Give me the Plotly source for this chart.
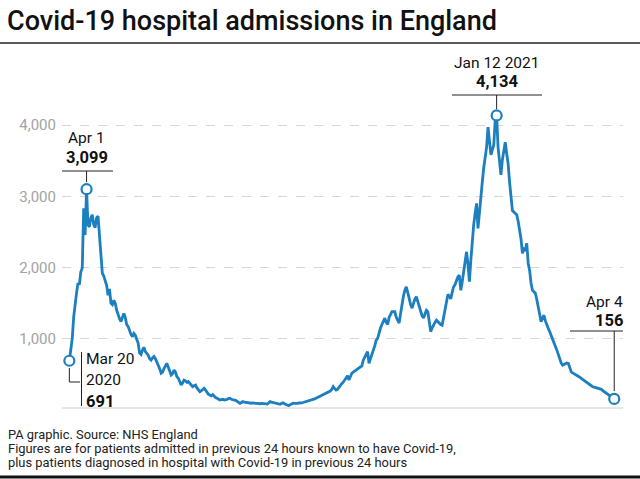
import plotly.graph_objects as go
import pandas as pd

# Daily admissions, starting 20 March 2020
mar_2020 = [691, 840, 1000, 1300, 1500, 1640, 1780, 1760, 1940, 1990, 2830, 2455]
apr_2020 = [3099, 2600, 2570, 2700, 2740, 2600, 2560, 2700, 2720, 2400, 2150, 1920, 1880, 1820, 1750,
            1610, 1700, 1500, 1480, 1540, 1500, 1400, 1330, 1280, 1240, 1300, 1355, 1300, 1200, 1170]
may_2020 = [1100, 1060, 1030, 1075, 1050, 980, 935, 800, 780, 840, 880, 820, 790, 770, 720, 700,
            730, 750, 720, 680, 630, 580, 515, 530, 580, 620, 655, 600, 540, 490, 510]
jun_2020 = [560, 530, 470, 445, 400, 350, 380, 420, 410, 390, 400, 370, 340, 327, 340, 350, 310,
            280, 257, 270, 290, 305, 280, 240, 220, 210, 200, 215, 187, 175]
jul_2020 = [165, 150, 140, 145, 150, 140, 140, 150, 160, 165, 150, 140, 140, 135, 120, 110, 94,
            105, 117, 110, 105, 100, 103, 98, 95, 100, 94, 92, 94, 90, 88]
aug_2020 = [94, 96, 90, 85, 84, 100, 117, 110, 105, 95, 94, 90, 85, 80, 94, 100, 88, 80, 70, 60,
            75, 90, 94, 92, 90, 94, 98, 94, 100, 105, 110]
sep_2020 = [115, 125, 130, 140, 145, 150, 155, 165, 175, 187, 195, 210, 225, 234, 240, 250, 257,
            265, 290, 327, 300, 280, 290, 320, 350, 370, 390, 420, 450, 480]
oct_2020 = [420, 460, 515, 530, 545, 560, 570, 585, 600, 620, 700, 750, 780, 820, 655, 720, 800,
            840, 900, 980, 1005, 1100, 1150, 1200, 1250, 1290, 1230, 1200, 1300, 1340, 1380]
nov_2020 = [1380, 1380, 1300, 1260, 1220, 1350, 1500, 1600, 1680, 1730, 1650, 1550, 1480, 1430,
            1500, 1560, 1590, 1520, 1450, 1380, 1320, 1290, 1350, 1400, 1380, 1250, 1100, 1150,
            1200, 1230]
dec_2020 = [1260, 1240, 1210, 1200, 1190, 1300, 1450, 1566, 1620, 1600, 1560, 1650, 1730, 1760,
            1820, 1870, 1890, 1680, 1800, 1950, 2100, 2220, 2050, 1800, 2100, 2400, 2600, 2760,
            2900, 2550, 2800]
jan_2021 = [3040, 3200, 3400, 3550, 3690, 3970, 3750, 3580, 3650, 3720, 4070, 4134, 3690, 3450,
            3300, 3510, 3650, 3760, 3600, 3460, 3200, 2950, 2800, 2780, 2760, 2740, 2650, 2550,
            2400, 2200, 2260]
feb_2021 = [2240, 2340, 2060, 1960, 1780, 1680, 1660, 1640, 1550, 1450, 1350, 1240, 1290, 1330,
            1250, 1180, 1145, 1100, 1050, 1005, 960, 900, 840, 780, 700, 660, 630, 640]
mar_2021 = [650, 660, 655, 600, 537, 520, 510, 500, 490, 470, 460, 445, 430, 410, 390, 375, 360,
            345, 335, 327, 320, 315, 310, 308, 305, 290, 270, 255, 245, 234, 220]
apr_2021 = [200, 185, 170, 156]

admissions = (mar_2020 + apr_2020 + may_2020 + jun_2020 + jul_2020 + aug_2020 + sep_2020 +
              oct_2020 + nov_2020 + dec_2020 + jan_2021 + feb_2021 + mar_2021 + apr_2021)
dates = pd.date_range("2020-03-20", periods=len(admissions), freq="D")

y_ticks = [1000, 2000, 3000, 4000]
y_tick_labels = ["1,000", "2,000", "3,000", "4,000"]

highlights = [
    {"date": "2020-03-20", "value": 691},
    {"date": "2020-04-01", "value": 3099},
    {"date": "2021-01-12", "value": 4134},
    {"date": "2021-04-04", "value": 156},
]

BLUE = "#1b7fc0"
FONT = "Roboto"

fig = go.Figure()
fig.add_trace(go.Scatter(
    x=dates, y=admissions, mode="lines",
    line=dict(color=BLUE, width=2.8), hoverinfo="skip", showlegend=False,
))
fig.add_trace(go.Scatter(
    x=[pd.Timestamp(h["date"]) for h in highlights], y=[h["value"] for h in highlights],
    mode="markers", cliponaxis=False,
    marker=dict(size=10, color="white", line=dict(color=BLUE, width=2.2)),
    hoverinfo="skip", showlegend=False,
))

# plot area pixel geometry
L, R, T, B = 62, 17, 100, 71
W, H = 640 - L - R, 479 - T - B


def px(x):
    return (x - L) / W


def py(y):
    return (479 - B - y) / H


shapes = []
annotations = []

# title and rules
annotations.append(dict(text="Covid-19 hospital admissions in England", xref="paper", yref="paper",
                        x=px(5), y=py(21), xanchor="left", yanchor="middle", showarrow=False,
                        font=dict(family=FONT, size=27, color="#111111", weight=500)))
shapes.append(dict(type="line", xref="paper", yref="paper", x0=px(0), x1=px(640), y0=py(43), y1=py(43),
                   line=dict(color="#222222", width=1.3)))
shapes.append(dict(type="line", xref="paper", yref="paper", x0=px(0), x1=px(640), y0=py(477), y1=py(477),
                   line=dict(color="#111111", width=3)))
# baseline
shapes.append(dict(type="line", xref="paper", yref="paper", x0=0, x1=1, y0=0, y1=0,
                   line=dict(color="#cccccc", width=1)))

# footer
foot = ["PA graphic. Source: NHS England",
        "Figures are for patients admitted in previous 24 hours known to have Covid-19,",
        "plus patients diagnosed in hospital with Covid-19 in previous 24 hours"]
for i, t in enumerate(foot):
    annotations.append(dict(text=t, xref="paper", yref="paper", x=px(6), y=py(435 + 13.5 * i),
                            xanchor="left", yanchor="middle", showarrow=False,
                            font=dict(family=FONT, size=12.9, color="#222222")))

lbl = dict(family=FONT, size=15.5, color="#111111")
bold = dict(family=FONT, size=16.5, color="#111111", weight=700)

# Apr 1 label
d = pd.Timestamp("2020-04-01")
annotations += [
    dict(text="Apr 1", x=d, xref="x", yref="paper", y=py(138), yanchor="middle", xanchor="center",
         showarrow=False, font=lbl),
    dict(text="3,099", x=d, xref="x", yref="paper", y=py(157), yanchor="middle", xanchor="center",
         showarrow=False, font=bold),
]
shapes += [
    dict(type="line", xref="paper", yref="paper", x0=px(62), x1=px(113), y0=py(171), y1=py(171),
         line=dict(color="#222222", width=1)),
    dict(type="line", xref="x", yref="paper", x0=d, x1=d, y0=py(171), y1=py(182),
         line=dict(color="#222222", width=1)),
]

# Jan 12 label
d = pd.Timestamp("2021-01-12")
annotations += [
    dict(text="Jan 12 2021", x=d, xref="x", yref="paper", y=py(63), yanchor="middle", xanchor="center",
         showarrow=False, font=lbl),
    dict(text="4,134", x=d, xref="x", yref="paper", y=py(82), yanchor="middle", xanchor="center",
         showarrow=False, font=bold),
]
shapes += [
    dict(type="line", xref="paper", yref="paper", x0=px(452), x1=px(542), y0=py(95), y1=py(95),
         line=dict(color="#222222", width=1)),
    dict(type="line", xref="x", yref="paper", x0=d, x1=d, y0=py(95), y1=py(109),
         line=dict(color="#222222", width=1)),
]

# Apr 4 label
d = pd.Timestamp("2021-04-04")
annotations += [
    dict(text="Apr 4", xref="paper", x=px(625), yref="paper", y=py(302), yanchor="middle", xanchor="right",
         showarrow=False, font=lbl),
    dict(text="156", xref="paper", x=px(625), yref="paper", y=py(320), yanchor="middle", xanchor="right",
         showarrow=False, font=bold),
]
shapes += [
    dict(type="line", xref="paper", yref="paper", x0=px(570), x1=px(623), y0=py(331), y1=py(331),
         line=dict(color="#222222", width=1)),
    dict(type="line", xref="x", yref="paper", x0=d, x1=d, y0=py(331), y1=py(391),
         line=dict(color="#222222", width=1)),
]

# Mar 20 label
d = pd.Timestamp("2020-03-20")
for i, (t, f) in enumerate([("Mar 20", lbl), ("2020", lbl), ("691", bold)]):
    annotations.append(dict(text=t, xref="paper", x=px(84), yref="paper", y=py(359 + 21 * i),
                            yanchor="middle", xanchor="left", showarrow=False, font=f))
shapes += [
    dict(type="line", xref="paper", yref="paper", x0=px(81.5), x1=px(81.5), y0=py(352), y1=py(406),
         line=dict(color="#222222", width=1)),
    dict(type="line", xref="x", yref="paper", x0=d, x1=d, y0=py(368), y1=py(382),
         line=dict(color="#222222", width=1)),
    dict(type="line", xref="x", yref="paper", x0=d, x1=pd.Timestamp("2020-03-27 12:00"), y0=py(382), y1=py(382),
         line=dict(color="#222222", width=1)),
]

fig.update_layout(
    width=640, height=479,
    margin=dict(l=L, r=R, t=T, b=B, autoexpand=False),
    paper_bgcolor="white", plot_bgcolor="white",
    shapes=shapes, annotations=annotations,
    xaxis=dict(range=["2020-03-14 21:00", "2021-04-10 03:00"], showgrid=False, showticklabels=False,
               zeroline=False, showline=False, ticks=""),
    yaxis=dict(range=[28, 28 + H / 0.07125], tickvals=y_ticks, ticktext=y_tick_labels,
               showgrid=True, gridcolor="#d6d6d6", griddash="dash", gridwidth=1,
               zeroline=False, showline=False, ticks="", ticklabelstandoff=5,
               tickfont=dict(family=FONT, size=15, color="#a3a3a3")),
    hovermode=False,
)

fig.write_html("out.html", config={"displayModeBar": False},
               post_script="document.body.style.margin='0px';document.body.style.overflow='hidden';")
